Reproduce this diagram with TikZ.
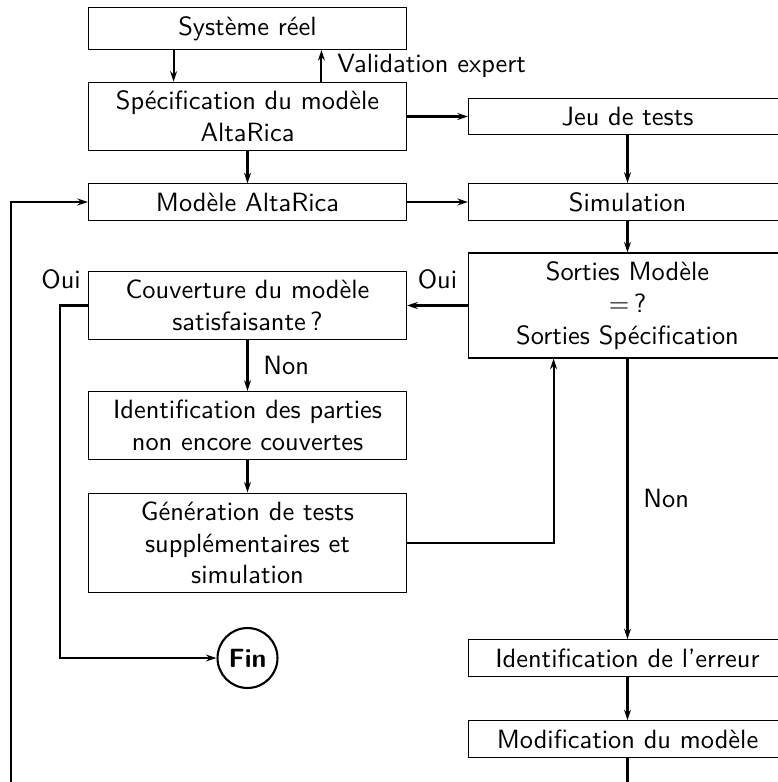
\documentclass[tikz,border=0pt]{standalone}
\usetikzlibrary{arrows.meta}

\begin{document}
\begin{tikzpicture}[
    x=0.3788pt, y=-0.3788pt,
    >={Stealth[length=4pt,width=2.6pt]},
    procbox/.style={
        draw,
        thin,
        align=center,
        text width=4cm,
        font=\sffamily
    },
    endcircle/.style={
        draw,
        thick,
        circle,
        inner sep=1pt,
        minimum size=22.7pt,
        font=\sffamily\bfseries
    },
    lbl/.style={font=\sffamily},
    line/.style={->, thick}
]
    \useasboundingbox (0,0) rectangle (778,782);
    \clip (0,0) rectangle (778,782);

    \node[procbox] (reel) at (247.5,28.5) {Système réel};
    \node[procbox] (spec) at (247.5,116.5) {Spécification du modèle\\AltaRica};
    \node[procbox] (model) at (247.5,202) {Modèle AltaRica};
    \node[procbox] (tests) at (627.5,116.5) {Jeu de tests};
    \node[procbox] (simu) at (627.5,202) {Simulation};
    \node[procbox] (compare) at (627.5,305.5) {Sorties Modèle\\$=$\,?\\Sorties Spécification};
    \node[procbox] (couv) at (247.5,305.5) {Couverture du modèle\\satisfaisante\,?};
    \node[procbox] (parties) at (247.5,425.5) {Identification des parties\\non encore couvertes};
    \node[procbox] (gen) at (247.5,543) {Génération de tests\\supplémentaires et\\simulation};
    \node[endcircle] (fin) at (247.5,658) {Fin};
    \node[procbox] (erreur) at (627.5,658) {Identification de l’erreur};
    \node[procbox] (modif) at (627.5,739) {Modification du modèle};

    \draw[line] ([xshift=-28pt]reel.south) -- ([xshift=-28pt]spec.north);
    \draw[line] ([xshift=28pt]spec.north) -- node[lbl, right=2.3pt] {Validation expert} ([xshift=28pt]reel.south);
    \draw[line] (spec) -- (model);
    \draw[line] (spec) -- (tests);
    \draw[line] (model) -- (simu);
    \draw[line] (tests) -- (simu);
    \draw[line] (simu) -- (compare);
    \draw[line] (compare) -- node[lbl, above=2.3pt] {Oui} (couv);
    \draw[line] (couv) -- node[lbl, right=2.3pt] {Non} (parties);
    \draw[line] (parties) -- (gen);
    \draw[line] (gen.east) -| ([xshift=-28pt]compare.south);
    \draw[line] (compare) -- node[lbl, right=2.3pt] {Non} (erreur);
    \draw[line] (erreur) -- (modif);
    \draw[line] (couv.west) node[lbl, anchor=south east, xshift=1pt, yshift=2.3pt] {Oui} -- ++(-10.6pt,0) |- (fin);
    \draw[line] (modif.south) -- ++(0,-12pt) -| ([xshift=-29pt]model.west) -- (model.west);
\end{tikzpicture}
\end{document}
